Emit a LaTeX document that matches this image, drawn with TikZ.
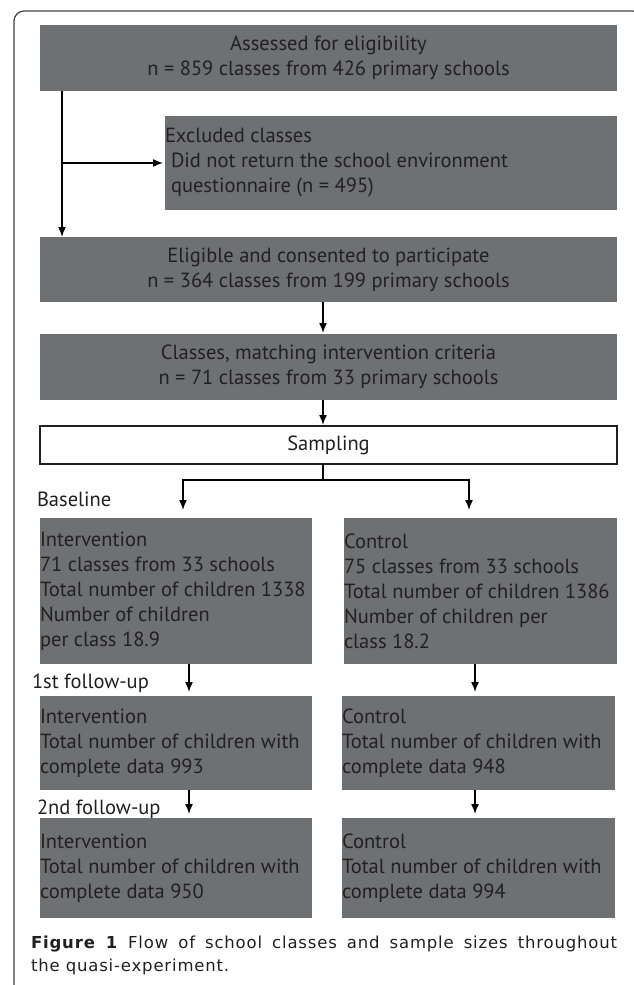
\documentclass[tikz,border=0pt]{standalone}
\usepackage{fontspec}
\setmainfont{PT Sans}
\newfontfamily\capfont[LetterSpace=5]{DejaVu Sans}
\usetikzlibrary{fit}
\usetikzlibrary{calc}
\usetikzlibrary{positioning}
\usetikzlibrary{arrows.meta}
\definecolor{boxgray}{RGB}{110,113,116}
\definecolor{ink}{RGB}{35,31,32}

\begin{document}
\begin{tikzpicture}[
  x=1pt, y=-1pt,
  font=\fontsize{20.5}{25}\selectfont,
  text=ink,
  stage/.style={rectangle, fill=boxgray},
  choice/.style={rectangle, draw=ink, line width=2pt, fill=white},
  link/.style={black, line width=1.5pt},
  arr/.style={link, -{Latex[length=10pt,width=8pt]}},
]

\useasboundingbox (0,0) rectangle (633,985);

% outer frame
\draw[ink!85, line width=1.2pt, rounded corners=10pt]
  (14,995) -- (14,11) -- (643,11) -- (643,995);

\coordinate (drop) at (62,0);
\coordinate (spine) at (323,0);
\coordinate (armL) at (183,0);
\coordinate (armR) at (469,0);
\coordinate (armLL) at (189,0);
\coordinate (armRR) at (475,0);

\begin{scope}[inner sep=0pt, outer sep=0pt]
  \node (assess) [stage, fit={(40,25) (617,91)},
    label={[align=center]center:{Assessed for eligibility\\n = 859 classes from 426 primary schools}}] {};
  \node (excl) [stage, fit={(165,116) (617,210)},
    label={[anchor=west, align=left]west:{Excluded classes\\\hspace*{6pt}Did not return the school environment\\\hspace*{6pt}questionnaire (n = 495)}}] {};
  \node (elig) [stage, fit={(40,237) (617,302)},
    label={[align=center]center:{Eligible and consented to participate\\n = 364 classes from 199 primary schools}}] {};
  \node (match) [stage, fit={(40,334) (617,400)},
    label={[align=center]center:{Classes, matching intervention criteria\\n = 71 classes from 33 primary schools}}] {};
  \node (sampling) [choice, fit={(40,426) (617,464)}, label=center:{Sampling}] {};

  \node (intv0) [stage, fit={(40,518) (312,664)},
    label={[anchor=west, align=left]west:{Intervention\\71 classes from 33 schools\\Total number of children 1338\\Number of children\\per class 18.9}}] {};
  \node (ctrl0) [stage, fit={(344,518) (617,664)},
    label={[anchor=west, align=left]west:{Control\\75 classes from 33 schools\\Total number of children 1386\\Number of children per\\class 18.2}}] {};
  \node (intv1) [stage, fit={(40,696) (312,790)},
    label={[anchor=west, align=left]west:{Intervention\\Total number of children with\\complete data 993}}] {};
  \node (ctrl1) [stage, fit={(342,696) (615,790)},
    label={[anchor=west, align=left]west:{Control\\Total number of children with\\complete data 948}}] {};
  \node (intv2) [stage, fit={(40,818) (312,918)},
    label={[anchor=west, align=left]west:{Intervention\\Total number of children with\\complete data 950}}] {};
  \node (ctrl2) [stage, fit={(342,818) (615,918)},
    label={[anchor=west, align=left]west:{Control\\Total number of children with\\complete data 994}}] {};

  \node (tbase) [anchor=west] at (37,499) {Baseline};
  \node (tfirst) [anchor=west] at (32,683) {1st follow-up};
  \node (tsecond) [anchor=west] at (37,809) {2nd follow-up};

  \node (caption) [anchor=north west, text width=586pt, align=justify,
    font=\capfont\fontsize{16.5}{23}\selectfont] at (31,936)
    {\textbf{Figure 1} Flow of school classes and sample sizes throughout\linebreak the quasi-experiment.};
\end{scope}

\draw[link] (assess.south -| drop) -- (drop |- excl.west);
\draw[arr] (drop |- excl.west) -- (elig.north -| drop);
\draw[arr, shorten >=2pt] (drop |- excl.west) -- (excl.west);

\draw[arr, shorten >=1pt] (elig.south -| spine) -- (match.north -| spine);
\draw[arr, shorten >=1pt] (match.south -| spine) -- (sampling.north -| spine);

\draw[link] (sampling.south -| spine) -- ++(0,16) coordinate (split);
\draw[arr, shorten >=8pt] (split) -| (intv0.north -| armL);
\draw[arr, shorten >=8pt] (split) -| (ctrl0.north -| armR);

\draw[arr, shorten >=4pt] (intv0.south -| armLL) -- (intv1.north -| armLL);
\draw[arr, shorten >=4pt] (ctrl0.south -| armRR) -- (ctrl1.north -| armRR);
\draw[arr, shorten >=4pt] (intv1.south -| armLL) -- (intv2.north -| armLL);
\draw[arr, shorten >=4pt] (ctrl1.south -| armRR) -- (ctrl2.north -| armRR);

\end{tikzpicture}
\end{document}
